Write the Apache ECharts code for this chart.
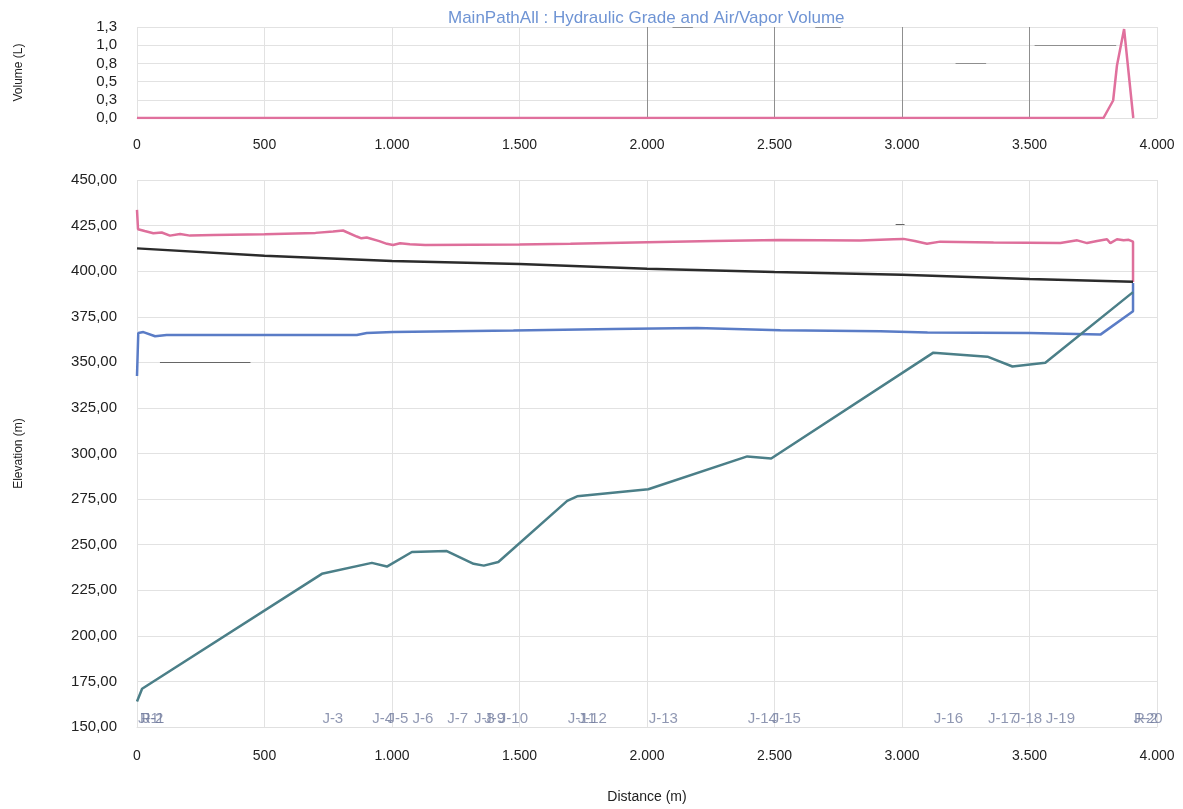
<!DOCTYPE html>
<html>
<head>
<meta charset="utf-8">
<script src="https://cdn.jsdelivr.net/npm/echarts@6/dist/echarts.min.js"></script>
<style>
  html, body { margin: 0; padding: 0; background: #fff; }
  #chart { width: 1183px; height: 809px; }
</style>
</head>
<body>
<div id="chart"></div>
<script>
// Air/vapor volume along the path (distance m, volume L)
const volumeData = [[0, 0], [1000, 0], [2000, 0], [3000, 0], [3790, 0], [3828, 0.25], [3843, 0.75], [3871, 1.27], [3907, 0]];

// Hydraulic grade (distance m, elevation m)
const hglData = [
  [0, 433.6], [4, 423], [30, 422], [64, 420.8], [97, 421.2], [129, 419.5], [169, 420.4], [208, 419.5],
  [300, 419.8], [500, 420.3], [700, 421], [769, 421.7], [808, 422.3], [862, 419], [880, 418], [901, 418.5],
  [950, 416.5], [980, 415], [1004, 414.4], [1032, 415.3], [1070, 414.8], [1130, 414.4], [1500, 414.6],
  [1700, 415.1], [2000, 415.9], [2260, 416.6], [2520, 417.1], [2836, 416.8], [2967, 417.5], [3006, 417.7],
  [3050, 416.5], [3098, 415], [3150, 416.2], [3359, 415.7], [3621, 415.4], [3687, 416.9], [3726, 415.4],
  [3765, 416.5], [3804, 417.5], [3817, 415.4], [3843, 417.5], [3869, 416.9], [3889, 417.2], [3906, 416.2],
  [3906, 394]
];

// Reference line (black)
const refData = [[0, 412.5], [500, 408.4], [1000, 405.6], [1500, 403.9], [2000, 401.3], [2500, 399.5], [3000, 398], [3500, 395.7], [3906, 394.2]];

// Lower hydraulic grade (blue)
const lowerData = [
  [0, 342.5], [5, 366.1], [25, 366.6], [71, 364.3], [116, 365], [500, 365], [862, 365], [901, 366.1],
  [1004, 366.6], [1476, 367.4], [1869, 368.3], [2196, 368.8], [2523, 367.6], [2915, 367], [3100, 366.4],
  [3500, 366.1], [3778, 365.2], [3906, 378], [3906, 393.5]
];

// Ground elevation at junctions (teal)
const groundData = [
  [0, 164], [20, 171], [725, 234], [921, 240], [980, 238], [1078, 246], [1215, 246.5], [1320, 239.5],
  [1360, 238.5], [1417, 240.5], [1687, 274], [1726, 276.5], [2005, 280.4], [2393, 298.4], [2487, 297.3],
  [3123, 355.3], [3335, 353.1], [3433, 347.7], [3562, 349.8], [3906, 388.5]
];

// Junction names and their distances
const junctionNames = ['J-1', 'R-1', 'J-2', 'J-3', 'J-4', 'J-5', 'J-6', 'J-7', 'J-8', 'J-9', 'J-10', 'J-11', 'J-12',
  'J-13', 'J-14', 'J-15', 'J-16', 'J-17', 'J-18', 'J-19', 'J-20', 'R-2'];
const junctionDist = [2, 10, 20, 725, 921, 980, 1078, 1215, 1320, 1360, 1417, 1687, 1726,
  2005, 2393, 2487, 3123, 3335, 3433, 3562, 3906, 3908];

// Darker grid-line fragments: [fromDist, toDist, value]
const volDashes = [[2100, 2180, 1.3], [2660, 2760, 1.3], [3210, 3330, 0.78], [3520, 3840, 1.04]];
const elevDashes = [[90, 445, 350], [2975, 3010, 426]];

// Tick settings
const distTicks = { min: 0, max: 4000, interval: 500 };
const volTicks = { min: 0, max: 1.3, interval: 0.26 };
const elevTicks = { min: 150, max: 450, interval: 25 };

const FONT = 'Liberation Sans, Arial, sans-serif';
const fmtDist = v => String(Math.round(v)).replace(/\B(?=(\d{3})+(?!\d))/g, '.');
const fmtDec = d => v => v.toFixed(d).replace('.', ',');
const dashLines = list => list.map(([a, b, v]) => [{ coord: [a, v] }, { coord: [b, v] }]);

const chart = echarts.init(document.getElementById('chart'), null, { renderer: 'canvas' });

const gridLine = { lineStyle: { color: '#e2e2e2', width: 1 } };

chart.setOption({
  animation: false,
  backgroundColor: '#fff',
  title: {
    text: 'MainPathAll : Hydraulic Grade and Air/Vapor Volume',
    left: 443, top: 5,
    textStyle: { color: '#6f94d4', fontSize: 17, fontWeight: 'normal', fontFamily: FONT }
  },
  grid: [
    { left: 137, right: 26, top: 27, height: 91 },
    { left: 137, right: 26, top: 180, height: 548 }
  ],
  xAxis: [0, 1].map(i => ({
    type: 'value', gridIndex: i, ...distTicks,
    name: i === 1 ? 'Distance (m)' : '',
    nameLocation: 'middle', nameGap: 63,
    nameTextStyle: { color: '#222', fontSize: 14, fontFamily: FONT },
    axisLine: { show: true, lineStyle: { color: '#e0e0e0' } },
    axisTick: { show: false },
    axisLabel: { color: '#222', fontSize: 14, fontFamily: FONT, margin: i === 0 ? 20 : 22, formatter: fmtDist },
    splitLine: { show: true, ...gridLine }
  })),
  yAxis: [
    {
      type: 'value', gridIndex: 0, ...volTicks,
      name: 'Volume (L)', nameLocation: 'middle', nameGap: 112, nameRotate: 90,
      nameTextStyle: { color: '#222', fontSize: 12, fontFamily: FONT },
      axisLine: { show: false }, axisTick: { show: false },
      axisLabel: { color: '#222', fontSize: 15, fontFamily: FONT, margin: 20, formatter: fmtDec(1) },
      splitLine: { show: true, ...gridLine }
    },
    {
      type: 'value', gridIndex: 1, ...elevTicks,
      name: 'Elevation (m)', nameLocation: 'middle', nameGap: 112, nameRotate: 90,
      nameTextStyle: { color: '#222', fontSize: 12, fontFamily: FONT },
      axisLine: { show: false }, axisTick: { show: false },
      axisLabel: { color: '#222', fontSize: 15, fontFamily: FONT, margin: 20, formatter: fmtDec(2) },
      splitLine: { show: true, ...gridLine }
    }
  ],
  series: [
    {
      name: 'Air/Vapor Volume', type: 'line', xAxisIndex: 0, yAxisIndex: 0,
      data: volumeData, symbol: 'none', z: 5,
      lineStyle: { color: '#e0709d', width: 2.5 },
      markLine: {
        silent: true, symbol: 'none', label: { show: false },
        lineStyle: { color: '#8f8f8f', width: 1, type: 'solid' },
        data: [{ xAxis: 2000 }, { xAxis: 2500 }, { xAxis: 3000 }, { xAxis: 3500 }]
          .concat(dashLines(volDashes))
      }
    },
    {
      name: 'Hydraulic Grade', type: 'line', xAxisIndex: 1, yAxisIndex: 1,
      data: hglData, symbol: 'none', z: 4,
      lineStyle: { color: '#de6f9b', width: 2.5 },
      markLine: {
        silent: true, symbol: 'none', label: { show: false },
        lineStyle: { color: '#666', width: 1, type: 'solid' },
        data: dashLines(elevDashes)
      }
    },
    {
      name: 'Reference', type: 'line', xAxisIndex: 1, yAxisIndex: 1,
      data: refData, symbol: 'none', z: 4,
      lineStyle: { color: '#2b2b2b', width: 2.5 }
    },
    {
      name: 'Lower Grade', type: 'line', xAxisIndex: 1, yAxisIndex: 1,
      data: lowerData, symbol: 'none', z: 4,
      lineStyle: { color: '#5a7cc6', width: 2.5 }
    },
    {
      name: 'Ground', type: 'line', xAxisIndex: 1, yAxisIndex: 1,
      data: groundData, symbol: 'none', z: 4,
      lineStyle: { color: '#4b7f88', width: 2.5 }
    },
    {
      name: 'Junctions', type: 'scatter', xAxisIndex: 1, yAxisIndex: 1,
      symbolSize: 1, itemStyle: { color: 'transparent' }, silent: true, z: 6,
      data: junctionNames.map((n, i) => [junctionDist[i], elevTicks.min, n]),
      label: {
        show: true, position: 'right', distance: 0, offset: [0, -8],
        color: '#737d9f', fontSize: 15, fontFamily: FONT,
        formatter: p => p.value[2]
      }
    }
  ]
});
</script>
</body>
</html>
